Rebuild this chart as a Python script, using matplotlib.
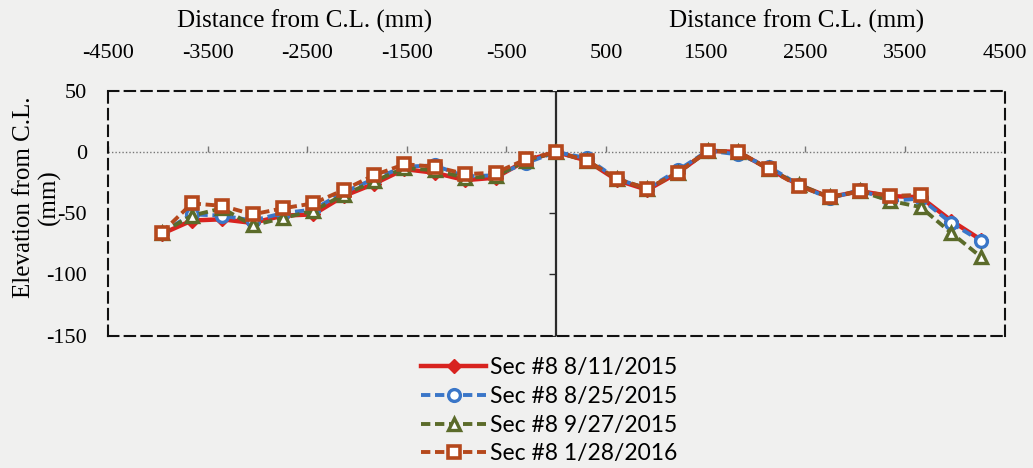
import numpy as np
import matplotlib.pyplot as plt

# Station index (1 ft = 304.8 mm spacing) and elevations (mm)
steps_left = np.arange(-13, 1)
steps_right = np.arange(1, 15)
ft = 304.8

x_all = np.concatenate([steps_left, steps_right]) * ft
x_orange = np.arange(-13, 13) * ft

elev_0811 = [-67, -56, -55, -58, -52, -51, -36, -26, -14, -17, -23, -21, -7, 0,
             -7, -23, -31, -17, 1, 0, -14, -27, -37, -32, -36, -37, -56, -72]
elev_0825 = [-66, -51, -52, -56, -50, -47, -33, -22, -12, -11, -20, -19, -9, 0,
             -5, -22, -30, -15, 1, -2, -12, -27, -38, -31, -40, -38, -58, -73]
elev_0927 = [-66, -52, -46, -60, -54, -48, -35, -24, -13, -15, -21, -20, -7, 0,
             -7, -22, -30, -17, 1, 0, -14, -27, -37, -32, -40, -45, -66, -86]
elev_0128 = [-66, -42, -44, -51, -46, -42, -31, -19, -10, -12, -18, -17, -6, 0,
             -7, -22, -30, -17, 1, 0, -14, -28, -37, -32, -36, -35]

labels = ["Sec #8 8/11/2015", "Sec #8 8/25/2015", "Sec #8 9/27/2015", "Sec #8 1/28/2016"]
top_ticks = [-4500, -3500, -2500, -1500, -500, 500, 1500, 2500, 3500, 4500]
y_ticks = [50, 0, -50, -100, -150]

bg = "#f0f0ef"
fig = plt.figure(figsize=(10.33, 4.68), dpi=100, facecolor=bg)
ax = fig.add_axes([0.1045, 0.283, 0.868, 0.523], facecolor=bg)

serif = "Liberation Serif"

# zero line and y axis through the centre line
ax.axhline(0, color="#777777", lw=1.0, ls=(0, (1, 1.5)), zorder=1)
ax.plot(top_ticks, [0] * len(top_ticks), ls="none", marker=2, ms=4, color="#777777", zorder=1)
ax.axvline(0, color="#2a2a2a", lw=1.6, zorder=1)
ax.plot([0] * len(y_ticks), y_ticks, ls="none", marker=0, ms=5, color="#2a2a2a", zorder=1)

dash = (0, (2.4, 1.2))
ax.plot(x_all, elev_0811, color="#d8231f", lw=3.2, marker="D", ms=7,
        mfc="#d8231f", mec="#d8231f", label=labels[0], zorder=3)
ax.plot(x_all, elev_0825, color="#3a76c8", lw=2.8, ls=dash, marker="o", ms=8.5,
        mfc="white", mec="#3a76c8", mew=2.4, label=labels[1], zorder=4)
ax.plot(x_all, elev_0927, color="#5b6b2a", lw=2.8, ls=dash, marker="^", ms=8.5,
        mfc="white", mec="#5b6b2a", mew=2.4, label=labels[2], zorder=5)
ax.plot(x_orange, elev_0128, color="#b5481c", lw=2.8, ls=dash, marker="s", ms=8.5,
        mfc="white", mec="#b5481c", mew=2.6, label=labels[3], zorder=6)

ax.set_xlim(-4450, 4480)
ax.set_ylim(-150, 50)

ax.xaxis.tick_top()
ax.set_xticks(top_ticks)
ax.set_xticklabels([str(t) for t in top_ticks], fontfamily=serif, fontsize=16)
ax.set_yticks(y_ticks)
ax.set_yticklabels([str(t) for t in y_ticks], fontfamily=serif, fontsize=16)
ax.tick_params(axis="x", length=0, pad=20)
ax.tick_params(axis="y", length=0, pad=15)

for sp in ax.spines.values():
    sp.set_linestyle((0, (5, 3)))
    sp.set_linewidth(1.5)
    sp.set_color("#111111")

fig.text(305 / 1033, 1 - 21 / 468, "Distance from C.L. (mm)", ha="center", va="center",
         fontfamily=serif, fontsize=18)
fig.text(797 / 1033, 1 - 21 / 468, "Distance from C.L. (mm)", ha="center", va="center",
         fontfamily=serif, fontsize=18)
fig.text(37 / 1033, 1 - 197 / 468, "Elevation from C.L.\n(mm)", ha="center", va="center",
         rotation=90, fontfamily=serif, fontsize=18, linespacing=1.15)

fig.legend(loc="upper left", bbox_to_anchor=(410 / 1033, 1 - 346 / 468), frameon=False,
           prop={"family": "Lato", "size": 16.5}, handlelength=2.8, handletextpad=0.2,
           labelspacing=0.33, borderpad=0)

fig.savefig("out.png", dpi=100, facecolor=bg)
